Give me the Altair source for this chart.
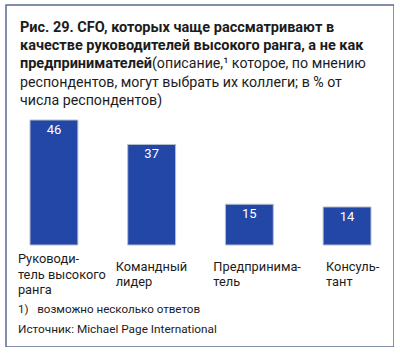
import altair as alt
import pandas as pd

categories = ["Руководи-\nтель высокого\nранга", "Командный\nлидер", "Предпринима-\nтель", "Консуль-\nтант"]
values = [46, 37, 15, 14]

title_bold = ["Рис. 29. CFO, которых чаще рассматривают в",
              "качестве руководителей высокого ранга, а не как",
              "предпринимателей"]
title_rest_line3 = "(описание,¹ которое, по мнению"
title_rest = ["респондентов, могут выбрать их коллеги; в % от",
              "числа респондентов)"]
footnote = "1)\u00a0\u00a0 возможно несколько ответов"
source = "Источник: Michael Page International"

FONT = "Roboto"
BAR = "#2347a7"
TXT = "#1c1c1c"

df = pd.DataFrame({"cat": categories, "val": values, "order": range(len(values))})

xscale = alt.Scale(domain=categories, range=[24, 365], paddingInner=0.51, paddingOuter=0)
yscale = alt.Scale(domain=[0, 46], range=[240, 115])

base = alt.Chart(df)

bars = base.mark_bar(color=BAR, stroke="#b8bfcc", strokeWidth=1).encode(
    x=alt.X("cat:N", scale=xscale, axis=None, sort=None),
    y=alt.Y("val:Q", scale=yscale, axis=None),
)

vals = base.mark_text(font=FONT, fontSize=13, color="white", baseline="alphabetic", dy=14).encode(
    x=alt.X("cat:N", scale=xscale, axis=None, sort=None),
    y=alt.Y("val:Q", scale=yscale, axis=None),
    text="val:Q",
)

def cat_labels(dx, ypos, test):
    return base.transform_filter(test).transform_calculate(
        lab="split(datum.cat, '\\n')"
    ).mark_text(font=FONT, fontSize=12.8, color=TXT, align="left", baseline="alphabetic",
                lineHeight=15.5, dx=dx).encode(
        x=alt.X("cat:N", scale=xscale, axis=None, sort=None),
        y=alt.value(ypos),
        text="lab:N",
    )

labs1 = cat_labels(-36, 258, "datum.order == 0")
labs2 = cat_labels(-36, 265.7, "datum.order == 1 || datum.order == 2")
labs3 = cat_labels(-21, 265.7, "datum.order == 3")

one = alt.Data(values=[{"k": 1}])

t_bold = alt.Chart(one).mark_text(font=FONT, fontSize=14.5, fontWeight="bold", color=TXT,
                                  align="left", baseline="alphabetic", lineHeight=18.3,
                                  text=title_bold).encode(x=alt.value(14), y=alt.value(26.7))
t_l3 = alt.Chart(one).mark_text(font=FONT, fontSize=14.2, color=TXT, align="left",
                                baseline="alphabetic", text=title_rest_line3).encode(
    x=alt.value(146), y=alt.value(26.7 + 2 * 18.3))
t_rest = alt.Chart(one).mark_text(font=FONT, fontSize=14.2, color=TXT, align="left",
                                  baseline="alphabetic", lineHeight=18.3, text=title_rest).encode(
    x=alt.value(14), y=alt.value(26.7 + 3 * 18.3))
t_foot = alt.Chart(one).mark_text(font=FONT, fontSize=11.6, color=TXT, align="left",
                                  baseline="alphabetic", text=footnote).encode(
    x=alt.value(12), y=alt.value(308))
t_src = alt.Chart(one).mark_text(font=FONT, fontSize=11.8, color=TXT, align="left",
                                 baseline="alphabetic", text=source).encode(
    x=alt.value(12), y=alt.value(328))

chart = alt.layer(bars, vals, labs1, labs2, labs3, t_bold, t_l3, t_rest, t_foot, t_src).properties(
    width=388, height=342,
    padding={"left": 6, "top": 5, "right": 0, "bottom": 0},
    background="white",
).configure_view(stroke="#5b6c92", strokeWidth=1.5)

chart.save("out.html", embed_options={"renderer": "svg", "actions": False})
